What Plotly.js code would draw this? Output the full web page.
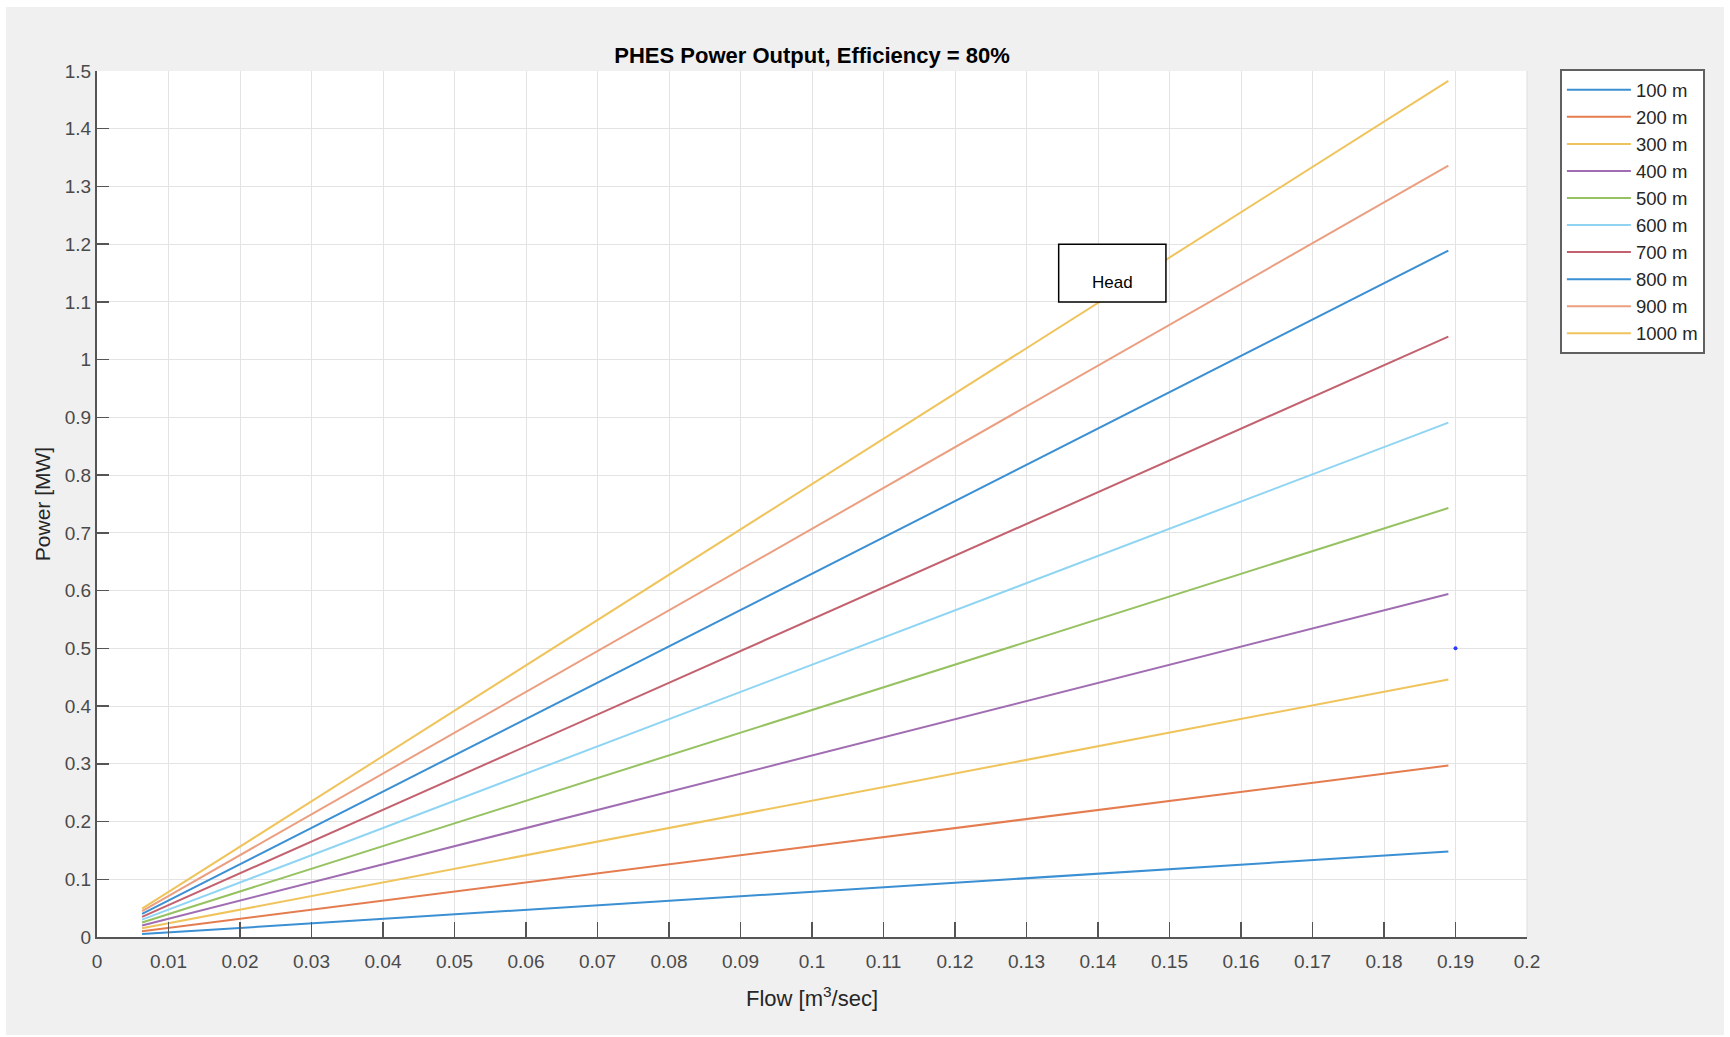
<!DOCTYPE html>
<html>
<head>
<meta charset="utf-8">
<script src="https://cdn.plot.ly/plotly-3.0.1.min.js"></script>
<style>
html,body{margin:0;padding:0;background:#ffffff;}
#chart{position:absolute;left:6px;top:7px;width:1718px;height:1028px;}
</style>
</head>
<body>
<div id="chart"></div>
<script>
// Data
const headLabels = ["100 m","200 m","300 m","400 m","500 m","600 m","700 m","800 m","900 m","1000 m"];
const flowPoints = [0.0063, 0.189];
const powerStart = [0.005, 0.010, 0.015, 0.020, 0.025, 0.030, 0.035, 0.040, 0.045, 0.049];
const powerEnd   = [0.148, 0.297, 0.446, 0.594, 0.743, 0.891, 1.040, 1.189, 1.336, 1.483];
const markerX = [0.19];
const markerY = [0.5];
const noteText = "Head";
const noteBoxX = [0.1345, 0.1495];
const noteBoxY = [1.10, 1.20];
const noteTextPos = [0.142, 1.134];

const colors = ['#3b8fd3','#e47c50','#f0c45c','#a06db2','#96c262','#8fd5f3','#c3616f','#3b8fd3','#eb9f80','#f0c45c'];

const traces = headLabels.map((name, i) => ({
  type: 'scatter',
  mode: 'lines',
  name: name,
  x: flowPoints,
  y: [powerStart[i], powerEnd[i]],
  line: {color: colors[i], width: 2}
}));
traces.push({
  type: 'scatter', mode: 'markers', x: markerX, y: markerY,
  showlegend: false, hoverinfo: 'skip',
  marker: {color: '#2b3cff', size: 4}
});

const axisFont = {family: 'Liberation Sans, Arial, sans-serif', size: 19, color: '#4a4a4a'};

const layout = {
  width: 1718, height: 1028,
  paper_bgcolor: '#f0f0f0',
  plot_bgcolor: '#ffffff',
  margin: {l: 91, r: 197, t: 64, b: 98},
  font: {family: 'Liberation Sans, Arial, sans-serif', color: '#262626'},
  title: {
    text: '<b>PHES Power Output, Efficiency = 80%</b>',
    font: {size: 22, color: '#000000'},
    x: 0.5, xref: 'paper', xanchor: 'center',
    y: 1 - 48/1028, yref: 'container', yanchor: 'middle'
  },
  xaxis: {
    range: [0, 0.2], dtick: 0.01, tick0: 0,
    showgrid: true, gridcolor: '#e3e3e3', gridwidth: 1,
    zeroline: false,
    showline: true, linecolor: '#555555', linewidth: 2,
    ticks: 'inside', ticklen: 15, tickwidth: 1.5, tickcolor: '#555555',
    tickfont: axisFont, ticklabelstandoff: 6,
    title: {text: 'Flow [m<sup>3</sup>/sec]', font: {size: 22, color: '#262626'}, standoff: 20},
    mirror: false
  },
  yaxis: {
    range: [0, 1.5], dtick: 0.1, tick0: 0,
    showgrid: true, gridcolor: '#e3e3e3', gridwidth: 1,
    zeroline: false,
    showline: true, linecolor: '#555555', linewidth: 2,
    ticks: 'inside', ticklen: 12, tickwidth: 1.5, tickcolor: '#555555',
    tickfont: axisFont,
    title: {text: 'Power [MW]', font: {size: 21, color: '#262626'}, standoff: 8},
    mirror: false
  },
  legend: {
    x: 1.023, xanchor: 'left', y: 1.002, yanchor: 'top',
    bgcolor: '#ffffff', bordercolor: '#606060', borderwidth: 2,
    font: {size: 18.5, color: '#262626'},
    itemwidth: 64, tracegroupgap: 0
  },
  shapes: [
    {type: 'rect', xref: 'x', yref: 'y', x0: noteBoxX[0], x1: noteBoxX[1], y0: noteBoxY[0], y1: noteBoxY[1],
     fillcolor: '#ffffff', line: {color: '#000000', width: 1.5}, layer: 'above'},
    {type: 'line', xref: 'paper', yref: 'paper', x0: 1, x1: 1, y0: 0, y1: 1,
     line: {color: '#dddddd', width: 1}, layer: 'below'}
  ],
  annotations: [
    {x: noteTextPos[0], y: noteTextPos[1], xref: 'x', yref: 'y', text: noteText, showarrow: false,
     font: {size: 17, color: '#000000'}}
  ]
};

Plotly.newPlot('chart', traces, layout, {displayModeBar: false, staticPlot: true});
</script>
</body>
</html>
